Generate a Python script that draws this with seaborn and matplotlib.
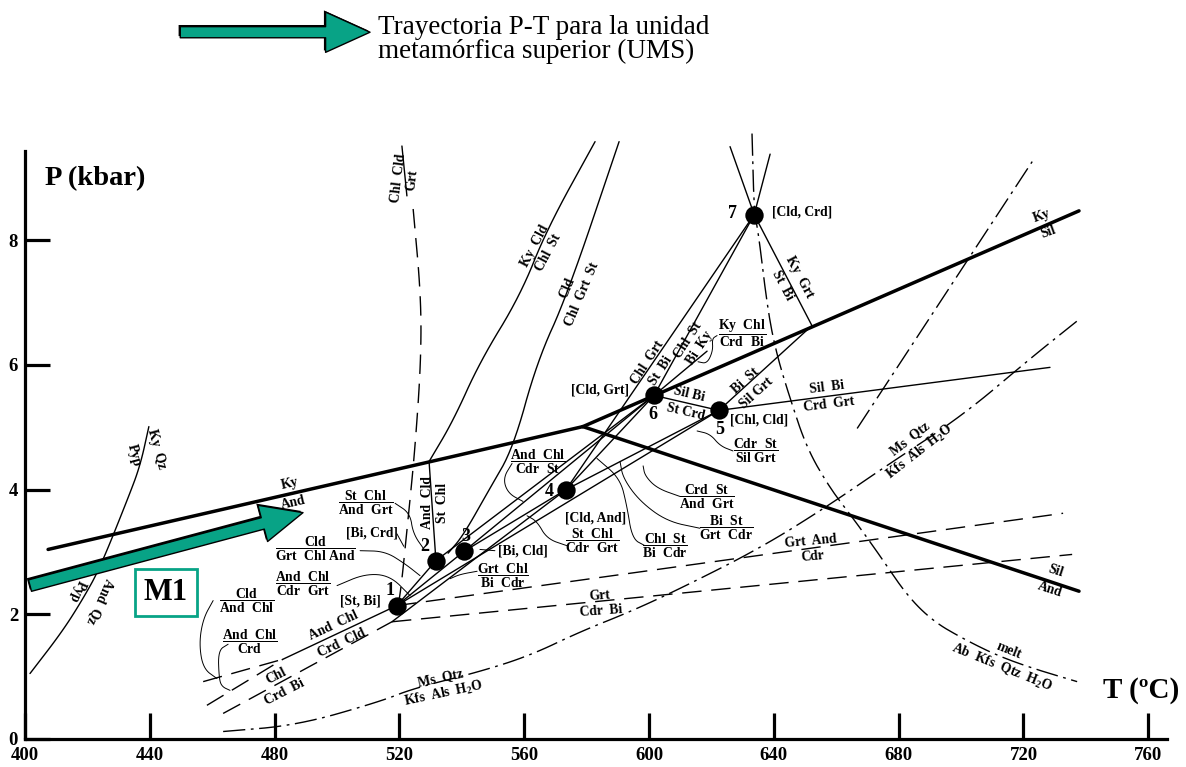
import numpy as np
import matplotlib
matplotlib.use("Agg")
import matplotlib.pyplot as plt
import matplotlib.patheffects as pe
import seaborn as sns

# ---- data (T in ºC, P in kbar) ----
inv_labels = ['1', '2', '3', '4', '5', '6', '7']
inv_T = [519.2, 531.7, 540.7, 573.4, 622.4, 601.6, 633.7]
inv_P = [2.14, 2.86, 3.01, 4.00, 5.27, 5.51, 8.41]
inv_names = ['[St, Bi]', '[Bi, Crd]', '[Bi, Cld]', '[Cld, And]',
             '[Chl, Cld]', '[Cld, Grt]', '[Cld, Crd]']

# other junctions: lower vertex, Ky-Sil hit, Ky-And hit, short end, And Chl junction
extra_pts = {'V': (517.6, 1.88), 'KS': (652.2, 6.63), 'KA': (529.5, 4.45),
             'B': (618.6, 6.22), 'J': (482.7, 1.28)}

# Al2SiO5 boundaries
ky_and_T, ky_and_P = [407.4, 578.8], [3.04, 5.01]
ky_sil_T, ky_sil_P = [578.8, 737.8], [5.01, 8.47]
and_sil_T, and_sil_P = [578.8, 737.8], [5.01, 2.37]

# straight reactions between junctions
segments = [('1', '2'), ('1', '3'), ('2', '6'), ('3', '6'), ('3', '4'), ('V', '4'),
            ('1', '5'), ('4', '6'), ('4', '7'), ('4', '5'), ('6', '7'), ('6', '5'),
            ('5', 'KS'), ('KS', '7'), ('KA', '2'), ('6', 'B'), ('J', '1')]
sil_bi_T, sil_bi_P = [622.4, 728.5], [5.27, 5.96]
above7_T = [[625.96, 633.7], [638.8, 633.7]]
above7_P = [[9.50, 8.41], [9.38, 8.41]]

# curved reactions
kyqz_T = [401.6, 411.9, 418.6, 424.0, 433.0, 436.9, 439.7]
kyqz_P = [1.05, 1.72, 2.25, 2.74, 3.86, 4.38, 5.01]
kycld_T = [582.7, 567.3, 558.7, 545.8, 537.2, 529.5]
kycld_P = [9.58, 8.18, 7.11, 6.05, 5.10, 4.45]
cld_T = [590.4, 573.7, 564.1, 556.4, 549.0, 540.4, 535.6]
cld_P = [9.58, 7.11, 6.05, 4.66, 4.02, 3.26, 2.98]
chlcld_T = [524.4, 526.9, 526.9, 525.0, 522.8, 520.2, 519.2]
chlcld_P = [8.50, 7.11, 6.05, 4.66, 3.54, 2.26, 2.14]
chlcld_bar_T, chlcld_bar_P = [520.8, 522.4], [9.51, 8.71]

# dashed reactions
d1_T, d1_P = [457.1, 482.7], [0.92, 1.28]
d2_T, d2_P = [458.3, 482.7], [0.54, 1.28]
d3_T, d3_P = [463.5, 517.6], [0.41, 1.88]
grt_and_T, grt_and_P = [519.2, 732.7], [2.14, 3.62]
grt_cdr_T, grt_cdr_P = [517.6, 735.6], [1.88, 2.96]

# dash-dot reactions
melt_T = [633.0, 633.7, 634.9, 638.1, 641.0, 645.2, 650.6, 658.0, 665.4, 674.0,
          682.7, 691.0, 700.6, 711.5, 723.1, 737.2]
melt_P = [9.71, 8.41, 8.18, 6.85, 6.15, 5.46, 4.66, 4.02, 3.54, 2.94,
          2.30, 1.89, 1.61, 1.34, 1.13, 0.92]
msqtz_T = [463.5, 487.2, 513.8, 524.4, 545.8, 561.9, 577.9, 593.9, 609.9, 635.6,
           657.1, 676.3, 700.6, 722.1, 738.1]
msqtz_P = [0.12, 0.22, 0.60, 0.81, 1.08, 1.34, 1.72, 2.04, 2.41, 3.06,
           3.73, 4.39, 5.19, 6.10, 6.74]
dd_T, dd_P = [666.7, 722.8], [4.98, 9.26]

# P-T path (M1)
path_T, path_P = [401.6, 489.1], [2.46, 3.63]

# fraction labels (standalone, with bar)
frac_labels = [('Cld', 'Grt  Chl And', 492.9, 3.05), ('And  Chl', 'Cdr  Grt', 489.1, 2.48),
               ('St  Chl', 'And  Grt', 509.3, 3.78), ('Cld', 'And  Chl', 471.2, 2.22),
               ('And  Chl', 'Crd', 472.1, 1.55), ('Grt  Chl', 'Bi  Cdr', 553.2, 2.61),
               ('And  Chl', 'Cdr  St', 564.4, 4.45), ('St  Chl', 'Cdr  Grt', 581.7, 3.17),
               ('Chl  St', 'Bi  Cdr', 605.1, 3.10), ('Crd  St', 'And  Grt', 618.6, 3.89),
               ('Bi  St', 'Grt  Cdr', 624.7, 3.38), ('Cdr  St', 'Sil Grt', 634.0, 4.62),
               ('Ky  Chl', 'Crd  Bi', 629.8, 6.50)]

# labels lying on a reaction line: (upper, lower, T, P, angle, gap)
line_labels = [('Ky', 'And', 485.4, 3.94, 13, 13.5), ('Ky', 'Sil', 726.9, 8.26, 20, 12),
               ('Sil', 'And', 729.3, 2.54, -18, 14), ('Ky  Qz', 'Pyp', 438.5, 4.60, -75, 17),
               ('And  Qz', 'Pyp', 420.4, 2.29, -114, 18), ('Chl  Cld', 'Grt', 521.8, 8.98, 83, 10),
               ('And  Cld', 'St  Chl', 531.3, 3.79, 90, 11), ('Ky  Cld', 'Chl  St', 565.5, 7.86, 62, 10.5),
               ('Cld', 'Chl  Grt  St', 576.1, 7.18, 67, 12), ('And  Chl', 'Crd  Cld', 500.2, 1.68, 25, 13.5),
               ('Chl', 'Crd  Bi', 481.7, 0.88, 27, 13), ('Ms  Qtz', 'Kfs  Als  H$_2$O', 533.8, 0.85, 12, 12),
               ('Grt', 'Cdr  Bi', 584.3, 2.18, 4, 11), ('Grt  And', 'Cdr', 652.1, 3.05, 5, 11.5),
               ('Sil  Bi', 'Crd  Grt', 657.2, 5.50, 7, 12), ('Sil Bi', 'St Crd', 612.3, 5.39, -13, 13),
               ('Bi  St', 'Sil Grt', 632.7, 5.65, 42, 12), ('Ky  Grt', 'St  Bi', 645.5, 7.34, -62, 13),
               ('Chl  Grt', 'St  Bi', 601.6, 5.97, 57, 11), ('Chl  St', 'Bi  Ky', 614.3, 6.33, 57, 10),
               ('Ms  Qtz', 'Kfs  Als  H$_2$O', 685.3, 4.71, 38, 12),
               ('melt', 'Ab  Kfs  Qtz  H$_2$O', 714.1, 1.28, -22, 13)]

# curly leaders from labels to lines
leaders = [([460.3, 457.1, 455.8, 457.1, 461.5], [2.22, 1.93, 1.53, 1.13, 0.97]),
           ([465.1, 461.9, 462.2, 463.1, 465.7], [1.52, 1.42, 0.97, 0.84, 0.78]),
           ([507.4, 515.4, 521.8, 526.6], [3.02, 3.01, 2.81, 2.62]),
           ([500.0, 509.0, 517.0, 523.4], [2.46, 2.65, 2.62, 2.30]),
           ([518.6, 523.4, 524.4, 528.2], [3.78, 3.62, 3.29, 3.02]),
           ([519.2, 521.4], [3.29, 3.09]),
           ([544.9, 539.4, 536.2], [2.69, 2.64, 2.57]),
           ([545.8, 550.6], [3.04, 3.02]),
           ([556.1, 553.2, 554.8, 559.6], [4.42, 4.18, 3.94, 3.81]),
           ([573.7, 567.3, 564.1, 560.9], [3.10, 3.21, 3.49, 3.58]),
           ([598.7, 594.6, 592.9, 590.7, 583.3], [3.10, 3.21, 3.74, 4.18, 4.50]),
           ([616.3, 605.8, 597.1, 591.7, 590.7], [3.38, 3.49, 3.81, 4.18, 4.45]),
           ([609.9, 602.6, 598.7, 598.1], [3.89, 4.02, 4.22, 4.38]),
           ([626.9, 622.8, 619.6, 615.4], [4.62, 4.70, 4.89, 4.94]),
           ([621.8, 620.2, 620.5, 618.6, 615.7], [6.47, 6.42, 6.23, 6.02, 6.05])]

num_pos_T = [517.0, 528.2, 541.3, 567.9, 622.8, 601.3, 626.6]
num_pos_P = [2.38, 3.09, 3.24, 3.97, 4.96, 5.20, 8.42]
name_pos_T = [507.4, 511.2, 559.6, 582.7, 626.0, 584.3, 639.5]
name_pos_P = [2.22, 3.31, 3.01, 3.54, 5.11, 5.59, 8.45]

x_ticks = [400, 440, 480, 520, 560, 600, 640, 680, 720, 760]
y_ticks = [0, 2, 4, 6, 8]

GREEN = '#08a386'

sns.set_theme(style='white', rc={'axes.edgecolor': 'black', 'text.color': 'black',
                                 'xtick.color': 'black', 'ytick.color': 'black'})
plt.rcParams['font.family'] = ['Liberation Serif', 'DejaVu Serif']
plt.rcParams['mathtext.fontset'] = 'custom'
plt.rcParams['mathtext.rm'] = 'Liberation Serif:bold'
plt.rcParams['mathtext.it'] = 'Liberation Serif:bold'
plt.rcParams['mathtext.bf'] = 'Liberation Serif:bold'


def smooth(x, y, n=3):
    pts = np.column_stack([x, y]).astype(float)
    for _ in range(n):
        q = 0.75 * pts[:-1] + 0.25 * pts[1:]
        r = 0.25 * pts[:-1] + 0.75 * pts[1:]
        mid = np.empty((2 * len(q), 2))
        mid[0::2], mid[1::2] = q, r
        pts = np.vstack([pts[:1], mid, pts[-1:]])
    return pts[:, 0], pts[:, 1]


fig = plt.figure(figsize=(11.86, 7.67), dpi=100)
ax = fig.add_axes([0.02108, 0.03651, 0.96290, 0.76662])
ax.set_xlim(400, 766)
ax.set_ylim(0, 9.43)

thin = dict(color='black', lw=1.0, clip_on=False)

# Al2SiO5 triple point lines
for tt, pp in [(ky_and_T, ky_and_P), (ky_sil_T, ky_sil_P), (and_sil_T, and_sil_P)]:
    sns.lineplot(x=tt, y=pp, sort=False, estimator=None, color='black', lw=2.5, ax=ax)

pts = dict(zip(inv_labels, zip(inv_T, inv_P)))
pts.update(extra_pts)
for a, b in segments:
    ax.plot([pts[a][0], pts[b][0]], [pts[a][1], pts[b][1]], **thin)
ax.plot(sil_bi_T, sil_bi_P, **thin)
for tt, pp in zip(above7_T, above7_P):
    ax.plot(tt, pp, **thin)

for tt, pp in [(kyqz_T, kyqz_P), (kycld_T, kycld_P), (cld_T, cld_P)]:
    sx, sy = smooth(tt, pp)
    ax.plot(sx, sy, **thin)

sx, sy = smooth(chlcld_T, chlcld_P)
ax.plot(sx, sy, dashes=(14, 7), **thin)
ax.plot(chlcld_bar_T, chlcld_bar_P, **thin)

for tt, pp in [(d1_T, d1_P), (d2_T, d2_P), (d3_T, d3_P), (grt_and_T, grt_and_P),
               (grt_cdr_T, grt_cdr_P)]:
    ax.plot(tt, pp, dashes=(14, 7), **thin)

for tt, pp in [(melt_T, melt_P), (msqtz_T, msqtz_P)]:
    sx, sy = smooth(tt, pp)
    ax.plot(sx, sy, dashes=(16, 4, 2, 4), **thin)
ax.plot(dd_T, dd_P, dashes=(16, 4, 2, 4), **thin)

for tt, pp in leaders:
    sx, sy = smooth(tt, pp)
    ax.plot(sx, sy, color='black', lw=0.7)

# invariant points
sns.scatterplot(x=inv_T, y=inv_P, s=175, color='black', edgecolor='black',
                linewidth=0, zorder=6, ax=ax)
for lab, tx, py in zip(inv_labels, num_pos_T, num_pos_P):
    ax.text(tx, py, lab, fontsize=13, fontweight='bold', ha='center', va='center')
for i, (nm, tx, py) in enumerate(zip(inv_names, name_pos_T, name_pos_P)):
    ha = 'left' if i in (4, 6) else 'center'
    ax.text(tx, py, nm, fontsize=9.8, fontweight='bold', ha=ha, va='center')


def esc(s):
    return s.replace(' ', r'\ ')


for top, bot, tx, py in frac_labels:
    ax.text(tx, py, r'$\dfrac{\mathrm{%s}}{\mathrm{%s}}$' % (esc(top), esc(bot)),
            fontsize=9.8, ha='center', va='center')

for top, bot, tx, py, rot, gap in line_labels:
    th = np.radians(rot)
    ox, oy = -np.sin(th) * gap / 2, np.cos(th) * gap / 2
    for s, k in ((top, 1), (bot, -1)):
        ax.annotate(s, (tx, py), xytext=(k * ox, k * oy), textcoords='offset points',
                    ha='center', va='center', rotation=rot, rotation_mode='anchor',
                    fontsize=9.8, fontweight='bold', annotation_clip=False)

# P-T path arrow
shadow = [pe.withSimplePatchShadow(offset=(-1.2, 1.2), shadow_rgbFace='black', alpha=1)]
ax.annotate('', xy=(path_T[1], path_P[1]), xytext=(path_T[0], path_P[0]),
            arrowprops=dict(arrowstyle='simple,head_length=3.0,head_width=2.7,tail_width=0.85',
                            mutation_scale=10, fc=GREEN, ec='black', lw=1.0,
                            shrinkA=0, shrinkB=0, path_effects=shadow), zorder=7)
ax.text(445.2, 2.35, 'M1', fontsize=22, fontweight='bold', ha='center', va='center',
        bbox=dict(boxstyle='square,pad=0.28', fc='white', ec=GREEN, lw=2))

# legend arrow + text
ax.annotate('', xy=(0.312, 0.958), xytext=(0.152, 0.958), xycoords='figure fraction',
            textcoords='figure fraction',
            arrowprops=dict(arrowstyle='simple,head_length=3.2,head_width=2.9,tail_width=0.8',
                            mutation_scale=10, fc=GREEN, ec='black', lw=1.0,
                            shrinkA=0, shrinkB=0, path_effects=shadow))
fig.text(0.3187, 0.949, 'Trayectoria P-T para la unidad\nmetamórfica superior (UMS)',
         fontsize=19.5, ha='left', va='center', linespacing=0.95)

# axes styling
for side in ('top', 'right'):
    ax.spines[side].set_visible(False)
for side in ('left', 'bottom'):
    ax.spines[side].set_linewidth(2.3)
ax.set_xticks(x_ticks)
ax.set_yticks(y_ticks)
ax.tick_params(axis='x', bottom=True, direction='in', length=19, width=2.3, pad=6, labelsize=13.5)
ax.tick_params(axis='y', left=True, direction='in', length=18, width=2.3, pad=5, labelsize=13.5)
for lbl in ax.get_xticklabels() + ax.get_yticklabels():
    lbl.set_fontweight('bold')
ax.text(406.4, 8.98, 'P (kbar)', fontsize=20.5, fontweight='bold', ha='left', va='center')
ax.text(745.5, 0.78, 'T (ºC)', fontsize=21, fontweight='bold', ha='left', va='center')

fig.savefig('out.png', dpi=100)
